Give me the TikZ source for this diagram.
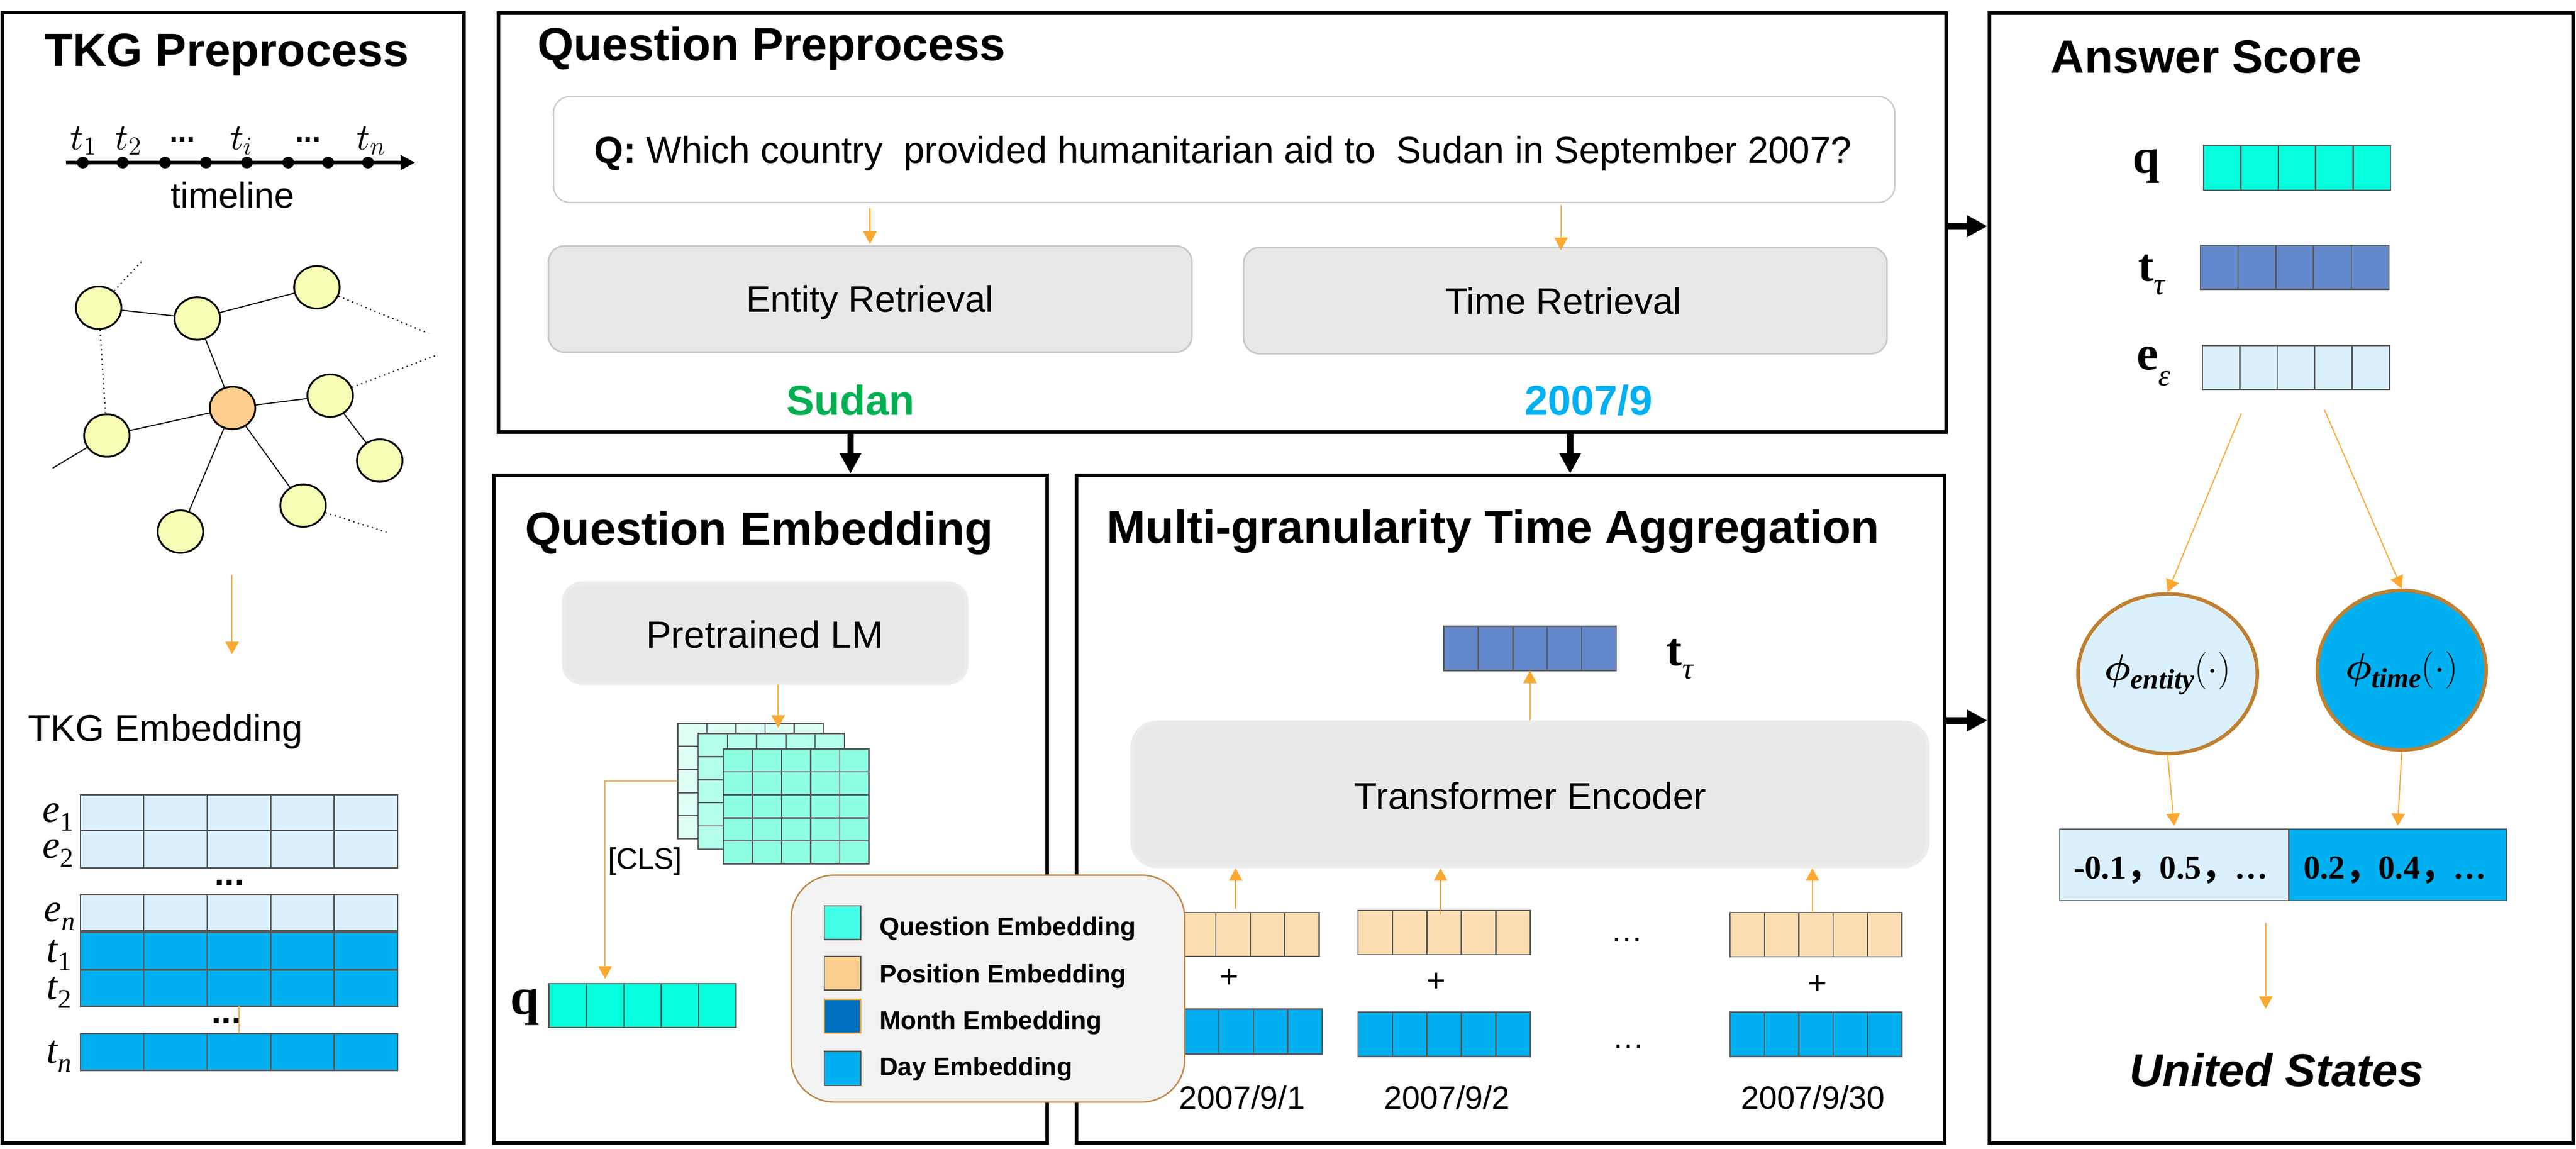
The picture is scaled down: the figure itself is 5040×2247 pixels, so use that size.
\documentclass[tikz,border=0pt]{standalone}
\usepackage{bm}
\usepackage{fontspec}
\setmainfont{Liberation Sans}
\newfontfamily\tnr{Liberation Serif}
\newfontfamily\cjk{Noto Sans CJK SC}
\usetikzlibrary{arrows.meta,shapes.geometric,fit,calc}

\newcommand{\fs}[1]{\fontsize{#1}{#1}\selectfont}
\newcommand{\sbu}[1]{\raisebox{-4.8pt}{\fs{15}\upshape #1}}
\newcommand{\sbi}[1]{\raisebox{-4.8pt}{\fs{15}\itshape #1}}
\newcommand{\sbt}[2]{\raisebox{#2}{\fs{17}\tnr\mdseries\itshape #1}}
\newcommand{\tsub}[1]{$t$\raisebox{-2.8pt}{\fs{15}$#1$}}
\newcommand{\phisub}[1]{$\bm{\phi}$\raisebox{-4.5pt}{\fs{15.5}\tnr\bfseries\itshape #1}$(\cdot)$}

\definecolor{orangeA}{RGB}{250,168,50}
\definecolor{lightblue}{RGB}{218,240,252}
\definecolor{dayblue}{RGB}{0,176,240}
\definecolor{monthblue}{RGB}{0,112,192}
\definecolor{steel}{RGB}{99,137,204}
\definecolor{aqua}{RGB}{5,255,220}
\definecolor{aquaL}{RGB}{64,255,230}
\definecolor{peach}{RGB}{252,221,178}
\definecolor{peachL}{RGB}{252,207,143}
\definecolor{boxgray}{RGB}{232,232,232}
\definecolor{boxline}{RGB}{200,200,200}
\definecolor{softline}{RGB}{236,236,236}
\definecolor{cellgray}{RGB}{89,89,89}
\definecolor{sudangreen}{RGB}{0,176,80}
\definecolor{nodeyellow}{RGB}{247,252,180}
\definecolor{nodeorange}{RGB}{253,206,142}
\definecolor{brownring}{RGB}{192,128,48}
\definecolor{legendfill}{RGB}{242,242,242}
\definecolor{legendline}{RGB}{192,137,74}
\definecolor{gridA}{RGB}{222,255,245}
\definecolor{gridB}{RGB}{179,255,235}
\definecolor{gridC}{RGB}{141,255,224}

\newcommand{\vecn}[6]{%
  \node[cellbox, fill=#6, fit={(#2,#3) (#4,#5)}] (#1) {};
  \foreach \k in {1,2,3,4}{\draw[cellsep] ($(#1.north west)!{\k/5}!(#1.north east)$) -- ($(#1.south west)!{\k/5}!(#1.south east)$);}%
}
\newcommand{\gridm}[6]{%
  \node[cellbox, fill=#6, fit={(#2,#3) (#4,#5)}] (#1) {};
  \foreach \k in {1,2,3,4}{%
    \draw[cellsep] ($(#1.north west)!{\k/5}!(#1.north east)$) -- ($(#1.south west)!{\k/5}!(#1.south east)$);
    \draw[cellsep] ($(#1.north west)!{\k/5}!(#1.south west)$) -- ($(#1.north east)!{\k/5}!(#1.south east)$);}%
}

\tikzset{
  panelbox/.style={draw=black, line width=2pt, inner sep=0pt},
  ttl/.style={font={\fs{25.9}\bfseries}, anchor=base west, inner sep=0pt},
  txt/.style={inner sep=0pt, anchor=base},
  cellbox/.style={draw=cellgray, line width=0.7pt, inner sep=0pt, outer sep=0pt},
  cellsep/.style={draw=cellgray, line width=0.7pt},
  rbox/.style={draw=boxline, line width=0.9pt, fill=boxgray, rounded corners=9pt, inner sep=0pt},
  softbox/.style={draw=softline, line width=2pt, fill=boxgray, inner sep=0pt},
  orarrow/.style={draw=orangeA, line width=0.6pt, -{Triangle[length=7pt,width=7.4pt]}},
  bkarrow/.style={draw=black, line width=3.6pt, -{Triangle[length=11.5pt,width=11.5pt]}},
  gnode/.style={ellipse, draw=black, line width=1pt, fill=nodeyellow, minimum width=0.89cm, minimum height=0.83cm, inner sep=0pt},
  tdot/.style={circle, fill=black, minimum size=0.23cm, inner sep=0pt},
  gedge/.style={draw=black, line width=0.6pt},
  gdot/.style={draw=black, line width=0.7pt, dotted},
  swatch/.style={draw=cellgray, line width=0.7pt, inner sep=0pt},
  legtxt/.style={font={\fs{14.2}\bfseries}, anchor=base west, inner sep=0pt},
  phinode/.style={ellipse, draw=brownring, line width=2pt, minimum width=3.3cm, minimum height=3.12cm, inner sep=0pt},
}

\begin{document}
\begin{tikzpicture}[x=0.01cm,y=-0.01cm]
\useasboundingbox (0,0) rectangle (5040,2247);
\fill[white] (0,0) rectangle (5040,2247);

% ---------- panels ----------
\node[panelbox, fit={(5,25) (908,2236)}] (tkg) {};
\node[panelbox, fit={(975,26) (3808,845)}] (qp) {};
\node[panelbox, fit={(966,930) (2049,2236)}] (qe) {};
\node[panelbox, fit={(2106,930) (3805,2236)}] (mta) {};
\node[panelbox, fit={(3892,26) (5034,2236)}] (as) {};

\node[ttl] (ttkg) at (86,130) {TKG Preprocess};
\node[ttl] (tqp) at (1051,118) {Question Preprocess};
\node[ttl] (tqe) at (1027,1066) {Question Embedding};
\node[ttl] (tmta) at (2165,1063) {Multi-granularity Time Aggregation};
\node[ttl] (tas) at (4012,143) {Answer Score};

% ---------- TKG preprocess ----------
\coordinate (tla) at (129,318);
\coordinate (tlb) at (812,318);
\draw[line width=1.9pt, -{Triangle[length=8pt,width=8pt]}] (tla) -- (tlb);
\foreach \x [count=\i] in {162,240,323,403,483,564,642,720} \node[tdot] (d\i) at (\x,318) {};
\node[txt, font=\fs{20}] (lbt1) at (163,293) {\tsub{1}};
\node[txt, font=\fs{20}] (lbt2) at (251,293) {\tsub{2}};
\node[txt, font={\fs{17}\bfseries}] (lbd1) at (357,278) {...};
\node[txt, font=\fs{20}] (lbti) at (472,293) {\tsub{i}};
\node[txt, font={\fs{17}\bfseries}] (lbd2) at (603,278) {...};
\node[txt, font=\fs{20}] (lbtn) at (726,293) {\tsub{n}};
\node[txt, font=\fs{20}] (tllab) at (455,407) {timeline};

\node[gnode] (g1) at (193,602) {};
\node[gnode] (g2) at (386,623) {};
\node[gnode] (g3) at (620,562) {};
\node[gnode, fill=nodeorange] (g4) at (455,798) {};
\node[gnode] (g5) at (646,774) {};
\node[gnode] (g6) at (209,852) {};
\node[gnode] (g7) at (743,901) {};
\node[gnode] (g8) at (593,989) {};
\node[gnode] (g9) at (353,1040) {};
\coordinate (c1) at (280,508);
\coordinate (c2) at (838,652);
\coordinate (c3) at (854,695);
\coordinate (c4) at (756,1041);
\coordinate (c5) at (103,916);
\draw[gedge] (g1) -- (g2);
\draw[gedge] (g2) -- (g3);
\draw[gedge] (g2) -- (g4);
\draw[gedge] (g4) -- (g5);
\draw[gedge] (g4) -- (g6);
\draw[gedge] (g4) -- (g8);
\draw[gedge] (g4) -- (g9);
\draw[gedge] (g5) -- (g7);
\draw[gedge] (g6) -- (c5);
\draw[gdot] (g1) -- (g6);
\draw[gdot] (g1) -- (c1);
\draw[gdot] (g3) -- (c2);
\draw[gdot] (g5) -- (c3);
\draw[gdot] (g8) -- (c4);

\coordinate (ga) at (454,1125);
\coordinate (gb) at (454,1280);
\draw[orarrow] (ga) -- (gb);

\node[txt, anchor=base west, font=\fs{20.7}] (tkgemb) at (54,1450) {TKG Embedding};
\vecn{re1}{157}{1555}{778}{1625}{lightblue}
\vecn{re2}{157}{1625}{778}{1698}{lightblue}
\vecn{ren}{157}{1750}{778}{1821}{lightblue}
\vecn{rt1}{157}{1824}{778}{1896}{dayblue}
\vecn{rt2}{157}{1898}{778}{1969}{dayblue}
\vecn{rtn}{157}{2022}{778}{2094}{dayblue}
\node[txt, font={\fs{20}\bfseries}] (edots) at (449,1732) {...};
\node[txt, font={\fs{20}\bfseries}] (tdots) at (443,2002) {...};
\draw[draw=orangeA, line width=0.6pt] (rt2.south) -- (rtn.north);
\node[txt, anchor=base east, font={\fs{22}\tnr\itshape}] (le1) at (145,1608) {e\sbu{1}};
\node[txt, anchor=base east, font={\fs{22}\tnr\itshape}] (le2) at (145,1679) {e\sbu{2}};
\node[txt, anchor=base east, font={\fs{22}\tnr\itshape}] (len) at (148,1803) {e\sbi{n}};
\node[txt, anchor=base east, font={\fs{22}\tnr\itshape}] (lt1) at (140,1882) {t\sbu{1}};
\node[txt, anchor=base east, font={\fs{22}\tnr\itshape}] (lt2) at (140,1955) {t\sbu{2}};
\node[txt, anchor=base east, font={\fs{22}\tnr\itshape}] (ltn) at (140,2080) {t\sbi{n}};

% ---------- Question preprocess ----------
\node[draw=boxline, line width=0.7pt, fill=white, rounded corners=9pt, inner sep=0pt, fit={(1083,189) (3707,396)}] (qbox) {};
\node[txt, font=\fs{20.8}] (qtext) at (2393,319) {\textbf{Q:} Which country~ provided humanitarian aid to~ Sudan in September 2007?};
\node[rbox, fit={(1073,481) (2332,689)}] (ent) {};
\node[txt, font=\fs{20.5}] (entt) at (1702,610) {Entity Retrieval};
\node[rbox, fit={(2433,484) (3692,692)}] (tim) {};
\node[txt, font=\fs{20.5}] (timt) at (3059,614) {Time Retrieval};
\draw[orarrow] ($(qbox.south -| entt)+(0,10)$) -- ($(ent.north -| entt)+(0,-2)$);
\draw[orarrow] ($(qbox.south -| timt)+(-5,4)$) -- ($(tim.north -| timt)+(-5,7)$);
\node[txt, font={\fs{23.3}\bfseries}, text=sudangreen] (sudan) at (1664,812) {Sudan};
\node[txt, font={\fs{23.3}\bfseries}, text=dayblue] (ym) at (3108,812) {2007/9};

% ---------- Question embedding ----------
\node[softbox, rounded corners=10pt, fit={(1103,1141) (1891,1336)}] (lm) {};
\node[txt, font=\fs{21}] (lmt) at (1496,1268) {Pretrained LM};
\gridm{gA}{1326}{1415}{1611}{1641}{gridA}
\gridm{gB}{1366}{1435}{1652}{1661}{gridB}
\gridm{gC}{1415}{1465}{1700}{1690}{gridC}
\draw[orarrow] ($(lm.south)+(25,0)$) -- ($(gA.north)+(54,9)$);
\vecn{qv}{1074}{1924}{1440}{2010}{aqua}
\draw[orarrow] (gA.west) -| ($(qv.north west)!0.3!(qv.north east)+(0,-9)$);
\node[txt, font=\fs{16.5}] (cls) at (1262,1700) {[CLS]};
\node[txt, anchor=base west, font={\fs{29}\tnr\bfseries}] (ql) at (998,1984) {q};

% ---------- Multi-granularity time aggregation ----------
\node[softbox, rounded corners=14pt, fit={(2215,1413) (3772,1695)}] (te) {};
\node[txt, font=\fs{20.8}] (tet) at (2994,1583) {Transformer Encoder};
\vecn{tv}{2825}{1225}{3162}{1312}{steel}
\node[txt, anchor=base west, font={\fs{26}\tnr\bfseries}] (tvl) at (3260,1302) {t\sbt{τ}{-7.5pt}};
\draw[orarrow] (te.north) -- (tv.south);
\vecn{p1}{2244}{1785}{2581}{1871}{peach}
\vecn{b1}{2250}{1974}{2587}{2062}{dayblue}
\vecn{p2}{2657}{1781}{2994}{1868}{peach}
\vecn{b2}{2657}{1980}{2994}{2067}{dayblue}
\vecn{p3}{3385}{1785}{3721}{1872}{peach}
\vecn{b3}{3385}{1980}{3721}{2067}{dayblue}
\draw[orarrow] ($(p1.north)+(5,-7)$) -- ($(p1.north |- te.south)+(5,0)$);
\draw[orarrow] ($(p2.north)+(-7,8)$) -- ($(p2.north |- te.south)+(-7,0)$);
\draw[orarrow] ($(p3.north)+(-7,0)$) -- ($(p3.north |- te.south)+(-7,0)$);
\node[font=\fs{18}, inner sep=0pt] (pl1) at (2405,1914) {+};
\node[font=\fs{18}, inner sep=0pt] (pl2) at (2810,1922) {+};
\node[font=\fs{18}, inner sep=0pt] (pl3) at (3556,1927) {+};
\node[font=\fs{18}, inner sep=0pt] (el1) at (3183,1839) {…};
\node[font=\fs{18}, inner sep=0pt] (el2) at (3186,2047) {…};
\node[txt, font=\fs{18}] (dt1) at (2430,2170) {2007/9/1};
\node[txt, font=\fs{18}] (dt2) at (2831,2170) {2007/9/2};
\node[txt, font=\fs{18}] (dt3) at (3547,2170) {2007/9/30};

% ---------- legend ----------
\node[draw=legendline, line width=0.8pt, fill=legendfill, rounded corners=24pt, inner sep=0pt, fit={(1548,1712) (2318,2156)}] (leg) {};
\node[swatch, fill=aquaL, fit={(1613,1772) (1684,1838)}] (s1) {};
\node[swatch, fill=peachL, fit={(1613,1871) (1684,1937)}] (s2) {};
\node[swatch, fill=monthblue, draw=orangeA, fit={(1613,1955) (1684,2021)}] (s3) {};
\node[swatch, fill=dayblue, fit={(1613,2057) (1684,2124)}] (s4) {};
\node[legtxt] (lg1) at (1720,1830) {Question Embedding};
\node[legtxt] (lg2) at (1720,1923) {Position Embedding};
\node[legtxt] (lg3) at (1720,2013) {Month Embedding};
\node[legtxt] (lg4) at (1720,2104) {Day Embedding};

% ---------- Answer score ----------
\vecn{aq}{4311}{284}{4677}{372}{aqua}
\vecn{at}{4305}{480}{4674}{566}{steel}
\vecn{ae}{4309}{676}{4675}{762}{lightblue}
\node[txt, anchor=base west, font={\fs{27}\tnr\bfseries}] (aql) at (4172,338) {q};
\node[txt, anchor=base west, font={\fs{26}\tnr\bfseries}] (atl) at (4183,550) {t\sbt{τ}{-7.5pt}};
\node[txt, anchor=base west, font={\fs{27}\tnr\bfseries}] (ael) at (4180,723) {e\sbt{ε}{-9pt}};
\node[phinode, fill=lightblue] (phe) at (4241,1318) {\fs{20}\phisub{entity}};
\node[phinode, fill=dayblue] (pht) at (4699,1311) {\fs{20}\phisub{time}};
\draw[orarrow] ($(ae.south west)+(76,47)$) -- (phe.north);
\draw[orarrow] ($(ae.south west)+(239,40)$) -- (pht.north);
\node[cellbox, fill=lightblue, fit={(4030,1622) (4478,1762)}] (sl) {};
\node[cellbox, fill=dayblue, fit={(4478,1622) (4904,1762)}] (sr) {};
\node[txt, font={\fs{18.5}\tnr\bfseries}] (slt) at (4247,1719) {-0.1{\cjk ，}0.5{\cjk ，}…};
\node[txt, font={\fs{18.5}\tnr\bfseries}] (srt) at (4686,1719) {0.2{\cjk ，}0.4{\cjk ，}…};
\draw[orarrow] (phe.south) -- ($(sl.north)+(0,-6)$);
\draw[orarrow] (pht.south) -- ($(sr.north)+(0,-6)$);
\node[txt, font={\fs{25.6}\bfseries\itshape}] (us) at (4454,2125) {United States};
\draw[orarrow] ($(sl.south east)+(-45,43)$) -- ($(sl.south east)+(-45,212)$);

% ---------- thick connectors ----------
\draw[bkarrow] (qp.south -| sudan) -- (qe.north -| sudan);
\draw[bkarrow] ($(qp.south -| ym)+(-36,0)$) -- ($(mta.north -| ym)+(-36,0)$);
\draw[bkarrow] ($(qp.east)+(0,7)$) -- ($(qp.east -| as.west)+(0,7)$);
\draw[bkarrow] (mta.east |- te.north) -- (as.west |- te.north);
\end{tikzpicture}
\end{document}
